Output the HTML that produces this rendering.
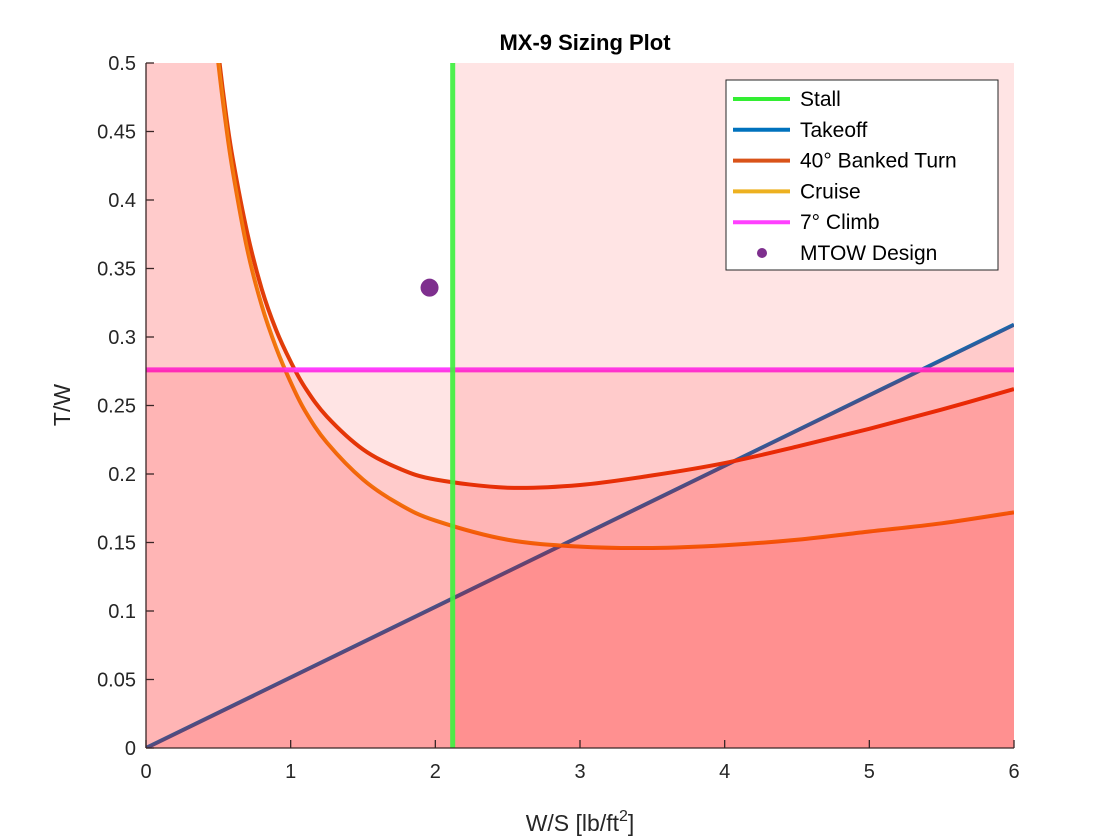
<!DOCTYPE html>
<html><head><meta charset="utf-8"><style>
body{margin:0;background:#fff;}
svg{display:block;font-family:"Liberation Sans",Arial,sans-serif;}
</style></head><body>
<svg id="chart" width="1120" height="840" viewBox="0 0 1120 840" xmlns="http://www.w3.org/2000/svg">
<text x="585" y="50" text-anchor="middle" font-size="22" font-weight="bold" fill="#000">MX-9 Sizing Plot</text>
<g id="plot"></g>
<g id="axes"></g>
<text x="580" y="831" text-anchor="middle" font-size="23" fill="#262626">W/S [lb/ft<tspan dy="-10" font-size="16">2</tspan><tspan dy="10">]</tspan></text>
<text transform="translate(70,405) rotate(-90)" text-anchor="middle" font-size="23" fill="#262626">T/W</text>
<g id="legend">
<rect x="726" y="80" width="272" height="190" fill="#fff" stroke="#262626" stroke-width="1"/>
</g>
</svg>
<script>
const xTicks=[0,1,2,3,4,5,6];
const yTicks=[0,0.05,0.1,0.15,0.2,0.25,0.3,0.35,0.4,0.45,0.5];
const yTickLabels=["0","0.05","0.1","0.15","0.2","0.25","0.3","0.35","0.4","0.45","0.5"];
const curveWS=[0.2,0.3,0.4,0.45,0.5,0.55,0.6,0.7,0.8,0.9,1.0,1.1,1.25,1.5,1.75,2,2.5,3,3.5,4,4.5,5,5.5,6];
const turnTW=[1.23,0.83,0.627,0.561,0.508,0.465,0.430,0.376,0.335,0.305,0.282,0.263,0.242,0.218,0.204,0.196,0.190,0.192,0.199,0.208,0.220,0.233,0.247,0.262];
const cruiseTW=[1.23,0.82,0.620,0.553,0.500,0.457,0.421,0.364,0.323,0.292,0.267,0.246,0.223,0.196,0.178,0.166,0.152,0.147,0.146,0.148,0.152,0.158,0.164,0.172];
const takeoffWS=[0,6];
const takeoffTW=[0,0.309];
const stallWS=2.12;
const climbTW=0.276;
const designWS=1.96, designTW=0.336;

const X0=146,X1=1014,Y0=748,Y1=63;
const sx=v=>X0+(v-0)/(6-0)*(X1-X0);
const sy=v=>Y0-(v-0)/(0.5-0)*(Y0-Y1);
const NS="http://www.w3.org/2000/svg";
const plot=document.getElementById('plot');
const axes=document.getElementById('axes');
function mk(tag,attrs,parent){const e=document.createElementNS(NS,tag);for(const k in attrs)e.setAttribute(k,attrs[k]);parent.appendChild(e);return e;}

const defs=mk('defs',{},plot);
const cp=mk('clipPath',{id:'clip'},defs);
mk('rect',{x:X0,y:Y1,width:X1-X0,height:Y0-Y1},cp);
const g=mk('g',{'clip-path':'url(#clip)'},plot);

function pts(xs,ys){return xs.map((x,i)=>sx(x)+','+sy(ys[i])).join(' ');}
// smooth path (Catmull-Rom -> Bezier) through data points
function smooth(xs,ys){
 const P=xs.map((x,i)=>[sx(x),sy(ys[i])]);
 let d='M'+P[0][0]+','+P[0][1];
 for(let i=0;i<P.length-1;i++){
  const p0=P[Math.max(0,i-1)],p1=P[i],p2=P[i+1],p3=P[Math.min(P.length-1,i+2)];
  const c1=[p1[0]+(p2[0]-p0[0])/6,p1[1]+(p2[1]-p0[1])/6];
  const c2=[p2[0]-(p3[0]-p1[0])/6,p2[1]-(p3[1]-p1[1])/6];
  d+=' C'+c1[0]+','+c1[1]+' '+c2[0]+','+c2[1]+' '+p2[0]+','+p2[1];
 }
 return d;
}

const to=mk('polyline',{points:pts(takeoffWS,takeoffTW),fill:'none',stroke:'#0072BD',"stroke-width":4},g);


const tu=mk('path',{d:smooth(curveWS,turnTW),fill:'none',stroke:'#E0400A',"stroke-width":4},g);


const cr=mk('path',{d:smooth(curveWS,cruiseTW),fill:'none',stroke:'#F08A10',"stroke-width":4},g);


const cl=mk('line',{x1:X0,x2:X1,y1:sy(climbTW),y2:sy(climbTW),stroke:'#ff40ff',"stroke-width":5},g);



const op=0.105, red='#ff0000';
const f1=mk('rect',{x:sx(stallWS),y:Y1,width:X1-sx(stallWS),height:Y0-Y1,fill:red,'fill-opacity':op},g);


const f2=mk('polygon',{points:pts(takeoffWS,takeoffTW)+' '+sx(6)+','+sy(0),fill:red,'fill-opacity':op},g);


const f3=mk('path',{d:'M'+sx(0)+','+sy(0)+' L'+sx(0)+','+sy(turnTW[0])+' L'+smooth(curveWS,turnTW).slice(1)+' L'+sx(6)+','+sy(0)+' Z',fill:red,'fill-opacity':op},g);


const f4=mk('path',{d:'M'+sx(0)+','+sy(0)+' L'+sx(0)+','+sy(cruiseTW[0])+' L'+smooth(curveWS,cruiseTW).slice(1)+' L'+sx(6)+','+sy(0)+' Z',fill:red,'fill-opacity':op},g);


const f5=mk('rect',{x:X0,y:sy(climbTW),width:X1-X0,height:Y0-sy(climbTW),fill:red,'fill-opacity':op},g);



const stall=mk('line',{x1:sx(stallWS),x2:sx(stallWS),y1:Y1,y2:Y0,stroke:'#40f040',"stroke-width":5,'stroke-opacity':0.92},g);



const dp=mk('circle',{cx:sx(designWS),cy:sy(designTW),r:9,fill:'#7E2F8E'},g);



const ax=mk('line',{x1:X0,x2:X1,y1:Y0,y2:Y0,stroke:'#3a2626','stroke-width':1.3},axes);


const ay=mk('line',{x1:X0,x2:X0,y1:Y0,y2:Y1,stroke:'#3a2626','stroke-width':1.3},axes);


xTicks.forEach(v=>{
 mk('line',{x1:sx(v),x2:sx(v),y1:Y0,y2:Y0-8,stroke:'#3a2626','stroke-width':1.3},axes);
 const t=mk('text',{x:sx(v),y:Y0+30,'text-anchor':'middle','font-size':20,fill:'#262626'},axes);
 t.textContent=String(v);
 
 
});
yTicks.forEach((v,i)=>{
 mk('line',{x1:X0,x2:X0+8,y1:sy(v),y2:sy(v),stroke:'#3a2626','stroke-width':1.3},axes);
 const t=mk('text',{x:X0-10,y:sy(v)+7,'text-anchor':'end','font-size':20,fill:'#262626'},axes);
 t.textContent=yTickLabels[i];
 
 
});

const leg=document.getElementById('legend');
const items=[["Stall","#33ee33","line"],["Takeoff","#0072BD","line"],["40° Banked Turn","#D95319","line"],["Cruise","#EDB120","line"],["7° Climb","#ff40ff","line"],["MTOW Design","#7E2F8E","dot"]];
items.forEach((it,i)=>{
 const y=99+i*30.8;
 if(it[2]==="line"){
  const l=mk('line',{x1:733,x2:790,y1:y,y2:y,stroke:it[1],'stroke-width':4},leg);
  
  
 } else {
  const c=mk('circle',{cx:762,cy:y,r:5,fill:it[1]},leg);
  
  
 }
 const t=mk('text',{x:800,y:y+7,'font-size':21,fill:'#000'},leg);
 t.textContent=it[0];
 
 
});
</script>
</body></html>
